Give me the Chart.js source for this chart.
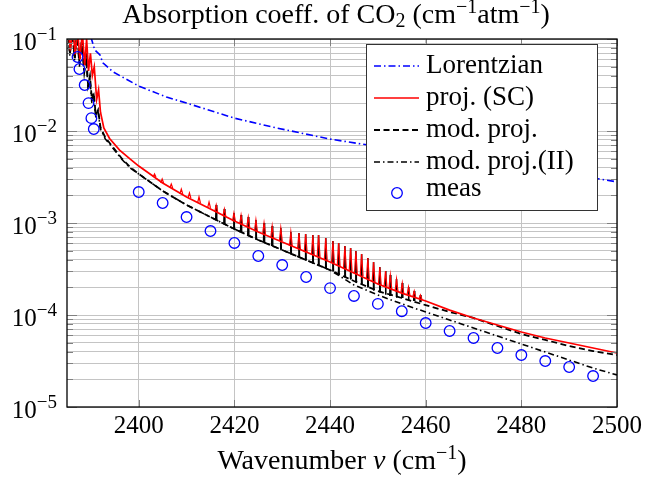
<!DOCTYPE html>
<html>
<head>
<meta charset="utf-8">
<script src="https://cdn.jsdelivr.net/npm/chart.js@4.4.1/dist/chart.umd.min.js"></script>
<style>
  body { margin: 0; background: #fff; }
</style>
</head>
<body>
<canvas id="c" width="646" height="481"></canvas>
<script>
// axis ticks
const xTicks = [2400, 2420, 2440, 2460, 2480, 2500]
const yDecades = [1e-5, 1e-4, 1e-3, 1e-2, 1e-1]
const yDecadeExp = ['\u22125', '\u22124', '\u22123', '\u22122', '\u22121']
const yGrid = [1e-5, 2e-5, 3e-5, 4e-5, 5e-5, 6e-5, 7e-5, 8e-5, 9e-5,
  1e-4, 2e-4, 3e-4, 4e-4, 5e-4, 6e-4, 7e-4, 8e-4, 9e-4,
  1e-3, 2e-3, 3e-3, 4e-3, 5e-3, 6e-3, 7e-3, 8e-3, 9e-3,
  1e-2, 2e-2, 3e-2, 4e-2, 5e-2, 6e-2, 7e-2, 8e-2, 9e-2, 1e-1]

// Lorentzian
const lorX = [2390.0, 2390.8, 2391.9, 2392.5, 2394.6, 2400, 2405.8, 2410, 2420, 2428.8, 2439.8, 2446.7, 2460, 2470, 2480, 2490, 2495.6, 2500]
const lorY = [0.105, 0.076, 0.067, 0.055, 0.044, 0.0308, 0.0234, 0.0201, 0.0138, 0.0108, 0.0082, 0.0072, 0.0058, 0.0048, 0.0040, 0.0034, 0.00305, 0.0028]

// proj. (SC)
const projX = [2385.2, 2385.7, 2386.2, 2386.7, 2387.2, 2387.7, 2388.2, 2388.7, 2389.1, 2389.5, 2389.9, 2390.3, 2390.7, 2391.2, 2391.6, 2392.0, 2392.7, 2393.9, 2396.0, 2398.1,
  2400, 2405, 2410, 2415, 2420, 2425, 2430, 2435, 2440, 2445, 2450, 2455, 2460, 2465, 2470, 2475, 2480, 2485, 2490, 2495, 2500]
const projY = [0.14, 0.075, 0.14, 0.068, 0.13, 0.06, 0.12, 0.052, 0.1, 0.045, 0.07, 0.04, 0.05, 0.022, 0.028, 0.016, 0.0108, 0.0083, 0.0062, 0.0050,
  0.00416, 0.00272, 0.00192, 0.00142, 0.00105, 7.98e-4, 6.21e-4, 4.84e-4, 3.77e-4, 2.86e-4, 2.17e-4, 1.73e-4, 1.42e-4, 1.13e-4, 9.27e-5, 7.78e-5, 6.53e-5, 5.62e-5, 4.96e-5, 4.38e-5, 3.86e-5]

// mod. proj. and mod. proj.(II)
const modX = [2385.2, 2385.6, 2386.1, 2386.6, 2387.1, 2387.6, 2388.1, 2388.6, 2389.0, 2389.4, 2389.8, 2390.2, 2390.6, 2391.0, 2391.5, 2392.0, 2393.0, 2394.5, 2396.5, 2398.1,
  2400, 2405, 2410, 2415, 2420, 2425, 2430, 2435, 2440, 2445, 2450, 2455, 2460, 2465, 2470, 2475, 2480, 2485, 2490, 2495, 2500]
const modY = [0.13, 0.07, 0.13, 0.062, 0.12, 0.055, 0.1, 0.045, 0.07, 0.032, 0.04, 0.022, 0.026, 0.015, 0.017, 0.011, 0.0085, 0.0068, 0.0050, 0.0041,
  3.41e-3, 2.23e-3, 1.57e-3, 1.16e-3, 8.6e-4, 6.54e-4, 5.09e-4, 3.96e-4, 3.08e-4, 2.34e-4, 1.82e-4, 1.53e-4, 1.28e-4, 1.08e-4, 9.28e-5, 7.59e-5, 6.22e-5, 5.35e-5, 4.60e-5, 4.06e-5, 3.67e-5]
const mod2Y = [0.12, 0.065, 0.12, 0.058, 0.11, 0.05, 0.09, 0.042, 0.06, 0.03, 0.036, 0.02, 0.024, 0.014, 0.016, 0.0105, 0.0082, 0.0066, 0.0049, 0.0040,
  3.41e-3, 2.23e-3, 1.57e-3, 1.16e-3, 8.6e-4, 6.54e-4, 5.09e-4, 3.96e-4, 3.08e-4, 2.12e-4, 1.65e-4, 1.32e-4, 1.08e-4, 8.82e-5, 7.22e-5, 5.91e-5, 4.84e-5, 3.96e-5, 3.24e-5, 2.65e-5, 2.23e-5]

// absorption lines (spikes) on top of the continuum
const lineX = [2403.3, 2404.9, 2406.8, 2408.9, 2410.6, 2412.6, 2414.7, 2416.2, 2417.9, 2419.9, 2421.4, 2422.9, 2424.5, 2426.2, 2427.9, 2429.7, 2431.8, 2433.5, 2434.9,
  2436.4, 2437.6, 2439.1, 2440.6, 2441.8, 2443.1, 2444.3, 2445.4, 2446.6, 2447.9, 2449.1, 2450.4, 2451.6, 2452.6, 2453.9, 2455.1, 2456.4, 2457.6, 2458.9]
const lineFoot = [3.16e-3, 2.72e-3, 2.40e-3, 2.07e-3, 1.87e-3, 1.65e-3, 1.46e-3, 1.32e-3, 1.19e-3, 1.05e-3, 9.75e-4, 9.05e-4, 8.18e-4, 7.59e-4, 6.87e-4, 6.37e-4, 5.62e-4, 5.22e-4, 4.84e-4,
  4.49e-4, 4.27e-4, 3.96e-4, 3.67e-4, 3.41e-4, 3.16e-4, 3.01e-4, 2.79e-4, 2.65e-4, 2.46e-4, 2.28e-4, 2.12e-4, 2.02e-4, 1.92e-4, 1.82e-4, 1.73e-4, 1.65e-4, 1.57e-4, 1.49e-4]
const lineTip = [3.41e-3, 3.01e-3, 2.65e-3, 2.34e-3, 2.12e-3, 1.92e-3, 1.69e-3, 1.57e-3, 1.42e-3, 1.28e-3, 1.22e-3, 1.16e-3, 1.08e-3, 1.0e-3, 9.28e-4, 8.82e-4, 7.98e-4, 7.79e-4, 7.59e-4,
  7.41e-4, 7.41e-4, 6.87e-4, 6.37e-4, 6.06e-4, 5.62e-4, 5.35e-4, 4.96e-4, 4.60e-4, 4.16e-4, 3.77e-4, 3.32e-4, 3.01e-4, 2.72e-4, 2.46e-4, 2.23e-4, 2.02e-4, 1.82e-4, 1.65e-4]
// foot of the same lines on the mod. proj. curves (from 2416.2 on)
const modLineFoot = [1.08e-3, 9.75e-4, 8.6e-4, 7.98e-4, 7.41e-4, 6.70e-4, 6.21e-4, 5.62e-4, 5.22e-4, 4.60e-4, 4.27e-4, 3.96e-4,
  3.67e-4, 3.50e-4, 3.24e-4, 3.01e-4, 2.79e-4, 2.59e-4, 2.46e-4, 2.28e-4, 2.17e-4, 2.02e-4, 1.87e-4, 1.78e-4, 1.69e-4, 1.61e-4, 1.57e-4, 1.53e-4, 1.46e-4, 1.42e-4, 1.38e-4]

// meas
const measX = [2387.2, 2387.6, 2388.7, 2389.5, 2390.1, 2390.6, 2400, 2405, 2410, 2415, 2420, 2425, 2430, 2435, 2440, 2445, 2450, 2455, 2460, 2465, 2470, 2475, 2480, 2485, 2490, 2495]
const measY = [0.0637, 0.0472, 0.0316, 0.0201, 0.0138, 0.0105, 2.17e-3, 1.65e-3, 1.16e-3, 8.18e-4, 6.07e-4, 4.38e-4, 3.49e-4, 2.59e-4, 1.96e-4, 1.61e-4, 1.32e-4, 1.10e-4,
  8.18e-5, 6.70e-5, 5.62e-5, 4.38e-5, 3.67e-5, 3.16e-5, 2.72e-5, 2.17e-5]

const FONT = "'Liberation Serif', 'Times New Roman', serif"
const GRID = '#c4c4c4'

function pts(xs, ys) {
  return xs.map((x, i) => ({ x: x, y: ys[i] }))
}

// each line drawn as a small tooth, separated by gaps
function teeth(xs, foot, tip, hw) {
  const out = []
  xs.forEach((x, i) => {
    out.push({ x: x - hw, y: foot[i] }, { x: x, y: tip[i] }, { x: x + hw, y: foot[i] }, { x: x, y: null })
  })
  return out
}

const nMod = modLineFoot.length
const modLineX = lineX.slice(lineX.length - nMod)
const modLineTip = lineTip.slice(lineTip.length - nMod)

const datasets = [
  { label: 'Lorentzian', data: pts(lorX, lorY), borderColor: '#0000ff', borderWidth: 1.6, borderDash: [7, 3, 1.5, 3], order: 6 },
  { label: 'proj. (SC)', data: pts(projX, projY), borderColor: '#ff0000', borderWidth: 1.7, order: 3 },
  { label: 'mod. proj.', data: pts(modX, modY), borderColor: '#000000', borderWidth: 1.8, borderDash: [6, 3.5], order: 5 },
  { label: 'mod. proj.(II)', data: pts(modX, mod2Y), borderColor: '#000000', borderWidth: 1.6, borderDash: [6, 3, 1.5, 3], order: 5 },
  { label: 'meas', data: pts(measX, measY), showLine: false, pointRadius: 5.3, pointBorderWidth: 1.3, pointBorderColor: '#0000ff', pointBackgroundColor: 'rgba(0,0,0,0)', order: 1 },
  { data: teeth(modLineX, modLineFoot, modLineTip, 0.1), borderColor: '#000000', borderWidth: 1.6, spanGaps: false, order: 4 },
  { data: teeth(lineX, lineFoot, lineTip, 0.3), borderColor: '#ff0000', borderWidth: 1.2, spanGaps: false, order: 3 }
]

function drawSupText(ctx, parts, x, y, align) {
  // parts: [text, size, raise, italic]
  let w = 0
  parts.forEach(p => {
    ctx.font = (p[3] ? 'italic ' : '') + p[1] + 'px ' + FONT
    p.w = ctx.measureText(p[0]).width
    w += p.w
  })
  let cx = align === 'right' ? x - w : align === 'center' ? x - w / 2 : x
  ctx.textAlign = 'left'
  ctx.textBaseline = 'alphabetic'
  parts.forEach(p => {
    ctx.font = (p[3] ? 'italic ' : '') + p[1] + 'px ' + FONT
    ctx.fillText(p[0], cx, y - p[2])
    cx += p.w
  })
}

const overlay = {
  id: 'overlay',
  afterDatasetsDraw(chart) {
    const { ctx, chartArea: a, scales } = chart
    const xs = scales.x, ys = scales.y
    ctx.save()
    // inner tick marks
    ctx.strokeStyle = '#808080'
    ctx.lineWidth = 1
    ctx.beginPath()
    yGrid.forEach(v => {
      const py = Math.round(ys.getPixelForValue(v)) + 0.5
      const len = yDecades.includes(v) ? 10 : 6
      ctx.moveTo(a.left, py); ctx.lineTo(a.left + len, py)
      ctx.moveTo(a.right, py); ctx.lineTo(a.right - len, py)
    })
    xTicks.forEach(v => {
      const px = Math.round(xs.getPixelForValue(v)) + 0.5
      ctx.moveTo(px, a.bottom); ctx.lineTo(px, a.bottom - 7)
      ctx.moveTo(px, a.top); ctx.lineTo(px, a.top + 7)
    })
    ctx.stroke()
    // frame
    ctx.strokeStyle = '#000'
    ctx.lineWidth = 1.3
    ctx.strokeRect(a.left, a.top, a.right - a.left, a.bottom - a.top)
    ctx.restore()
  },
  afterDraw(chart) {
    const { ctx, chartArea: a, scales } = chart
    const ys = scales.y
    ctx.save()
    ctx.fillStyle = '#000'
    // y tick labels 10^k
    yDecades.forEach((v, i) => {
      const py = ys.getPixelForValue(v)
      drawSupText(ctx, [['10', 25, 0], [yDecadeExp[i], 19, 10.5]], a.left - 10, py + 11, 'right')
    })
    // title
    const cx = (a.left + a.right) / 2
    drawSupText(ctx, [['Absorption coeff. of CO', 28, 0], ['2', 20, -4], [' (cm', 28, 0], ['\u22121', 20, 10], ['atm', 28, 0], ['\u22121', 20, 10], [')', 28, 0]], cx - 6, 23, 'center')
    // x axis title
    drawSupText(ctx, [['Wavenumber ', 28, 0], ['\u03bd', 28, 0, true], [' (cm', 28, 0], ['\u22121', 20, 10], [')', 28, 0]], cx, 469, 'center')

    // legend
    const box = { l: 366, t: 44, r: 597, b: 210 }
    ctx.fillStyle = '#fff'
    ctx.fillRect(box.l, box.t, box.r - box.l, box.b - box.t)
    ctx.strokeStyle = '#333'
    ctx.lineWidth = 1
    ctx.strokeRect(box.l + 0.5, box.t + 0.5, box.r - box.l, box.b - box.t)
    const rows = [66, 98, 130, 162, 189]
    datasets.slice(0, 5).forEach((ds, i) => {
      const ry = rows[i]
      if (ds.showLine === false) {
        ctx.beginPath()
        ctx.strokeStyle = ds.pointBorderColor
        ctx.lineWidth = ds.pointBorderWidth
        ctx.arc(397, ry + 4, ds.pointRadius, 0, Math.PI * 2)
        ctx.stroke()
      } else {
        ctx.beginPath()
        ctx.strokeStyle = ds.borderColor
        ctx.lineWidth = ds.borderWidth
        ctx.setLineDash(ds.borderDash || [])
        ctx.moveTo(374, ry); ctx.lineTo(419, ry)
        ctx.stroke()
        ctx.setLineDash([])
      }
      ctx.fillStyle = '#000'
      ctx.font = '27px ' + FONT
      ctx.textAlign = 'left'
      ctx.textBaseline = 'middle'
      ctx.fillText(ds.label, 426, ry)
    })
    ctx.restore()
  }
}

new Chart(document.getElementById('c'), {
  type: 'line',
  data: { datasets: datasets },
  options: {
    responsive: false,
    animation: false,
    devicePixelRatio: 1,
    layout: { padding: { top: 39, right: 27, left: 0, bottom: 0 } },
    elements: { point: { radius: 0 }, line: { tension: 0 } },
    plugins: { legend: { display: false }, tooltip: { enabled: false } },
    scales: {
      x: {
        type: 'linear', min: 2385, max: 2500,
        afterBuildTicks: s => { s.ticks = xTicks.map(v => ({ value: v })) },
        afterFit: s => { s.height = 74 },
        grid: { color: GRID, drawTicks: false },
        border: { display: false },
        ticks: { font: { family: FONT, size: 25 }, color: '#000', padding: 4, maxRotation: 0, callback: v => String(v) }
      },
      y: {
        type: 'logarithmic', min: 1e-5, max: 1e-1,
        afterBuildTicks: s => { s.ticks = yGrid.map(v => ({ value: v })) },
        afterFit: s => { s.width = 67 },
        grid: { color: GRID, drawTicks: false },
        border: { display: false },
        ticks: { display: false }
      }
    }
  },
  plugins: [overlay]
})
</script>
</body>
</html>
